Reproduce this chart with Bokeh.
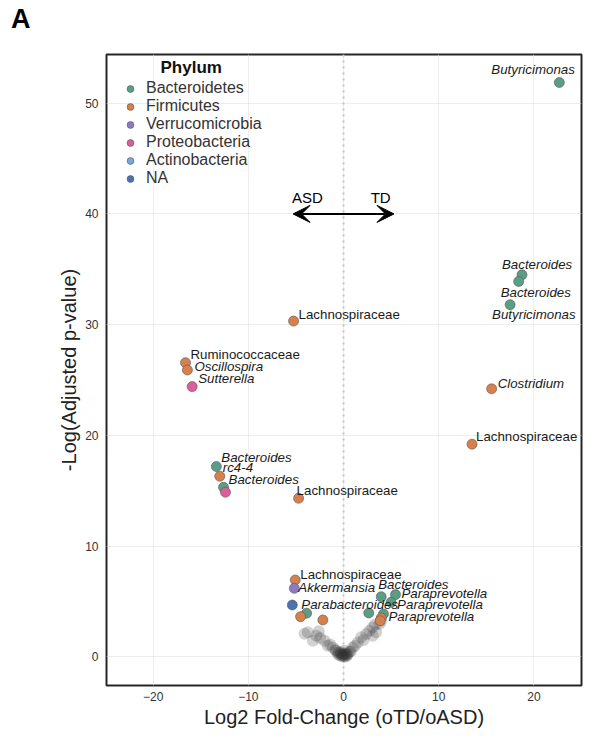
from bokeh.plotting import figure
from bokeh.models import (ColumnDataSource, Span, Arrow, VeeHead, Label, Legend,
                          LegendItem, FixedTicker, CustomJSTickFormatter, Div)
from bokeh.layouts import column
from bokeh.core.properties import value, field
from bokeh.embed import file_html
from bokeh.resources import INLINE

# ---------------- data ----------------
phyla = ["Bacteroidetes", "Firmicutes", "Verrucomicrobia", "Proteobacteria",
         "Actinobacteria", "NA"]
phylum_colors = ["#5a9e86", "#d8804c", "#8c7bbf", "#da5f9b", "#7aa6da", "#4a74ad"]

log2fc = [22.67, 18.75, 18.40, 17.50, 15.56, 13.50, -5.25, -16.60, -16.40, -15.90,
          -13.36, -13.00, -12.60, -12.40, -4.72, -5.07, -5.17, -5.38, -4.51, -3.88,
          -2.17, 3.96, 5.46, 5.00, 2.65, 4.20, 3.96, 3.85]
neglogp = [51.87, 34.50, 33.90, 31.80, 24.20, 19.20, 30.32, 26.56, 25.90, 24.40,
           17.18, 16.30, 15.30, 14.86, 14.31, 6.93, 6.18, 4.67, 3.62, 3.93,
           3.32, 5.42, 5.61, 4.91, 3.95, 3.86, 3.50, 3.25]
phylum = ["Bacteroidetes", "Bacteroidetes", "Bacteroidetes", "Bacteroidetes", "Firmicutes",
          "Firmicutes", "Firmicutes", "Firmicutes", "Firmicutes", "Proteobacteria",
          "Bacteroidetes", "Firmicutes", "Bacteroidetes", "Proteobacteria", "Firmicutes",
          "Firmicutes", "Verrucomicrobia", "NA", "Firmicutes", "Bacteroidetes",
          "Firmicutes", "Bacteroidetes", "Bacteroidetes", "Bacteroidetes", "Bacteroidetes",
          "Bacteroidetes", "Firmicutes", "Firmicutes"]
taxon = ["Butyricimonas", "Bacteroides", "Bacteroides", "Butyricimonas", "Clostridium",
         "Lachnospiraceae", "Lachnospiraceae", "Ruminococcaceae", "Oscillospira", "Sutterella",
         "Bacteroides", "rc4-4", "Bacteroides", "", "Lachnospiraceae",
         "Lachnospiraceae", "Akkermansia", "Parabacteroides", "", "",
         "", "Bacteroides", "Paraprevotella", "Paraprevotella", "",
         "Paraprevotella", "", ""]

# non-significant taxa (grey)
grey_x = [-4.09, -3.75, -3.22, -2.86, -2.45, -1.99, -1.65, -1.12, -0.77, -0.24,
          0.10, 0.98, 1.50, 1.86, 2.38, 2.73, 3.07, 3.43, 3.78, 3.96,
          3.07, -0.55, -0.35, -0.15, 0.05, 0.25, 0.45, -0.60, 0.20, 0.00,
          -0.25, 0.40, -0.45, 0.65, 0.10, 0.30, -0.10, 0.75, -0.85, -1.40,
          1.20, 2.10, -2.60, 3.30]
grey_y = [2.08, 2.20, 1.45, 1.90, 1.70, 1.45, 0.99, 0.84, 0.54, 0.39,
          0.54, 0.84, 1.29, 1.75, 2.05, 2.35, 2.65, 2.20, 2.96, 3.25,
          1.90, 0.20, 0.10, 0.05, 0.10, 0.20, 0.30, 0.35, 0.30, 0.20,
          0.25, 0.15, 0.40, 0.45, 0.00, 0.05, 0.15, 0.50, 0.60, 1.10,
          1.00, 1.50, 2.30, 2.90]

x_ticks = [-20, -10, 0, 10, 20]
y_ticks = [0, 10, 20, 30, 40, 50]

# label placement offsets (pixels) for each taxon label
label_dx = [-68, -20, -18, -18, 6, 4, 5, 5, 7, 6,
            5, 3, 5, 0, -2, 5, 4, 9, 0, 0,
            0, -3, 6, 6, 0, 5, 0, 0]
label_dy = [-13, -10, 11, 10, -5, -8, -7, -8, -4, -8,
            -9, -9, -8, 0, -8, -6, -1, -1, 0, 0,
            0, -12, -1, 2, 0, 3, 0, 0]

FONT = "Liberation Sans"
DIV_H, DIV_TOP = 30, 6
W, H = 585, 730 - DIV_H - DIV_TOP
BL, BR, BT, BB = 106, 4, 54 - DIV_H - DIV_TOP, 45

# ---------------- figure ----------------
p = figure(width=W, height=H, output_backend="svg", toolbar_location=None,
           x_range=(-24.9, 25.0), y_range=(-2.6, 54.4),
           min_border_left=BL, min_border_right=BR, min_border_top=BT, min_border_bottom=BB)

p.outline_line_color = "#262626"
p.outline_line_width = 2
p.background_fill_color = "white"

p.xaxis.ticker = FixedTicker(ticks=x_ticks)
p.yaxis.ticker = FixedTicker(ticks=y_ticks)
fmt = "return (tick < 0 ? '\\u2212' : '') + Math.abs(tick).toString();"
p.xaxis.formatter = CustomJSTickFormatter(code=fmt)
p.yaxis.formatter = CustomJSTickFormatter(code=fmt)
p.axis.axis_line_color = None
p.axis.major_tick_line_color = None
p.axis.minor_tick_line_color = None
p.axis.major_label_text_font = FONT
p.axis.major_label_text_font_size = "12px"
p.axis.major_label_text_color = "#333333"
p.axis.axis_label_text_font = FONT
p.axis.axis_label_text_font_size = "20px"
p.axis.axis_label_text_font_style = "normal"
p.axis.axis_label_text_color = "#222222"
p.xaxis.major_label_standoff = 0
p.yaxis.major_label_standoff = 2
p.xaxis.axis_label_standoff = 2
p.yaxis.axis_label_standoff = 2
p.xaxis.axis_label = "Log2 Fold-Change (oTD/oASD)"
p.yaxis.axis_label = "-Log(Adjusted p-value)"

p.grid.grid_line_color = "#dcdcdc"
p.grid.grid_line_width = 1
p.grid.grid_line_dash = "1 1"

p.add_layout(Span(location=0, dimension="height", line_color="#c4c4c4",
                  line_width=2, line_dash="2 4", level="underlay"))

# grey non-significant points
p.scatter(grey_x, grey_y, size=12, fill_color="#333333", fill_alpha=0.22, line_color=None)

# coloured significant points by phylum
items = []
for ph, col in zip(phyla, phylum_colors):
    idx = [i for i, v in enumerate(phylum) if v == ph]
    xs = [log2fc[i] for i in idx] or [float("nan")]
    ys = [neglogp[i] for i in idx] or [float("nan")]
    src = ColumnDataSource(dict(x=xs, y=ys))
    r = p.scatter("x", "y", source=src, size=10, fill_color=col, line_color="#555555",
                  line_width=0.6)
    items.append(LegendItem(label=ph, renderers=[r]))

# text labels
lab_idx = [i for i, t in enumerate(taxon) if t]
lab_src = ColumnDataSource(dict(
    x=[log2fc[i] for i in lab_idx], y=[neglogp[i] for i in lab_idx],
    text=[taxon[i] for i in lab_idx],
    dx=[label_dx[i] for i in lab_idx], dy=[label_dy[i] for i in lab_idx],
    style=["normal" if taxon[i].endswith("aceae") else "italic" for i in lab_idx]))
p.text(x="x", y="y", text="text", x_offset="dx", y_offset="dy", source=lab_src,
       text_font=value(FONT), text_font_size="13.3px", text_font_style=field("style"),
       text_baseline="middle", text_align="left", text_color="#1a1a1a")

# ASD <-> TD arrow
p.add_layout(Arrow(start=VeeHead(size=17, fill_color="black", line_color="black"),
                   end=VeeHead(size=17, fill_color="black", line_color="black"),
                   x_start=-5.3, x_end=5.3, y_start=40, y_end=40,
                   line_color="black", line_width=2))
for txt, xx in (("ASD", -3.8), ("TD", 3.9)):
    p.add_layout(Label(x=xx, y=41.5, text=txt, text_align="center", text_baseline="middle",
                       text_font=FONT, text_font_size="15px", text_color="black"))

legend = Legend(items=items, location=(14, 498), label_text_font=FONT,
                label_text_font_size="16px", label_text_color="#333333",
                glyph_width=20, glyph_height=17, label_height=17, spacing=0,
                label_standoff=6, padding=5, margin=0,
                border_line_color=None, background_fill_alpha=0)
p.add_layout(legend)
p.add_layout(Label(x=-16.0, y=53.2, text="Phylum", text_align="center",
                   text_baseline="middle", text_font=FONT, text_font_size="17px",
                   text_font_style="bold", text_color="#111111"))

# panel letter
letter = Div(text="A", width=60, height=DIV_H, margin=(DIV_TOP, 0, 0, 11),
             styles={"font-family": "'Liberation Sans', Arial, sans-serif",
                     "font-size": "27px", "font-weight": "bold",
                     "line-height": "27px", "color": "black"})

layout = column(letter, p, spacing=0)
open("out.html", "w").write(file_html(layout, INLINE))
